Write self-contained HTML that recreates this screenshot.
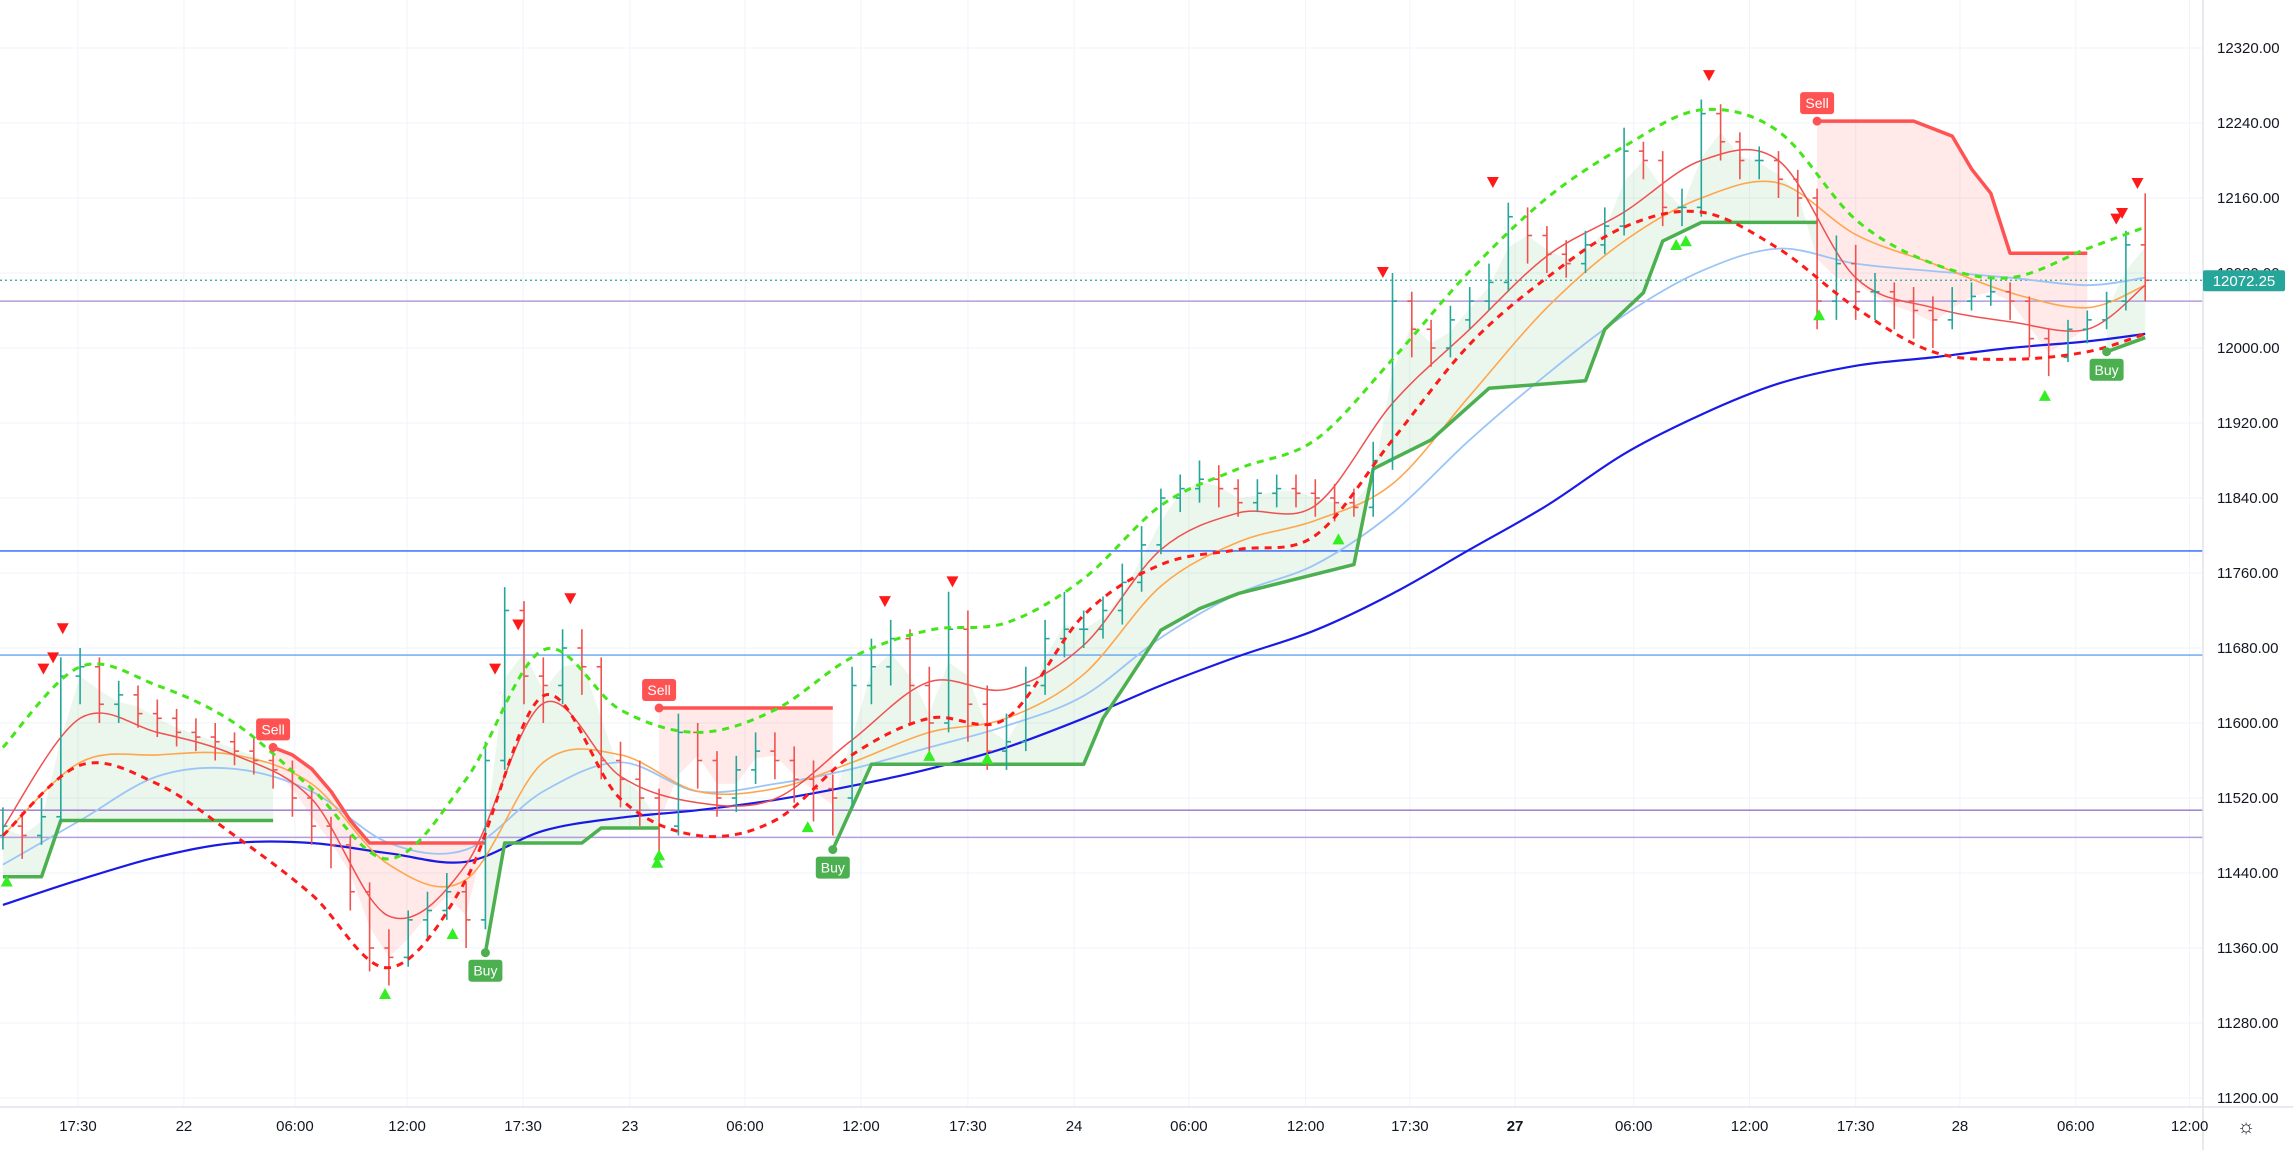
<!DOCTYPE html>
<html><head><meta charset="utf-8"><title>Chart</title>
<style>
html,body{margin:0;padding:0;background:#fff;width:2293px;height:1150px;overflow:hidden}
svg{display:block;font-family:"Liberation Sans",sans-serif}
</style></head>
<body>
<svg id="chart" width="2293" height="1150" viewBox="0 0 2293 1150" xmlns="http://www.w3.org/2000/svg">
<defs><clipPath id="plotclip"><rect x="0" y="0" width="2203" height="1107"/></clipPath></defs>
<rect x="0" y="0" width="2293" height="1150" fill="#ffffff"/>
<g id="grid"></g>
<g id="plot" clip-path="url(#plotclip)"></g>
<g id="axes"></g>
</svg>
<script>
// ---------- data ----------
const open0 = 11480;
const closes = [11490,11480,11500,11650,11660,11620,11630,11610,11605,11590,11585,11580,11570,11560,11550,11520,11490,11470,11420,11360,11350,11390,11400,11420,11390,11560,11720,11650,11640,11680,11660,11560,11540,11520,11490,11590,11560,11520,11550,11570,11560,11540,11530,11520,11640,11660,11690,11640,11600,11700,11620,11570,11580,11640,11690,11700,11700,11720,11750,11790,11840,11850,11860,11850,11835,11845,11850,11845,11840,11835,11830,11880,12050,12020,12000,12030,12050,12070,12140,12120,12100,12090,12110,12130,12210,12200,12150,12150,12250,12220,12200,12200,12180,12160,12050,12090,12060,12060,12050,12040,12030,12050,12055,12060,12050,12010,11990,12020,12030,12050,12110,12072.25];
const highs = [11510,11505,11520,11670,11680,11670,11645,11640,11625,11615,11605,11600,11590,11585,11575,11560,11530,11500,11480,11430,11380,11400,11420,11440,11430,11580,11745,11730,11670,11700,11700,11670,11580,11560,11530,11610,11600,11570,11565,11590,11590,11575,11560,11545,11660,11690,11710,11700,11660,11740,11720,11640,11610,11660,11710,11740,11720,11735,11770,11810,11850,11865,11880,11875,11860,11860,11865,11865,11860,11855,11850,11900,12080,12060,12030,12045,12065,12090,12155,12150,12130,12115,12125,12150,12235,12220,12210,12170,12265,12260,12230,12215,12210,12190,12170,12120,12110,12080,12070,12065,12055,12065,12070,12075,12070,12055,12020,12030,12040,12060,12125,12165];
const lows = [11465,11455,11470,11495,11620,11600,11600,11595,11585,11575,11570,11560,11555,11545,11530,11500,11470,11445,11400,11335,11320,11340,11370,11390,11360,11380,11550,11620,11600,11620,11630,11540,11510,11490,11460,11480,11530,11500,11505,11535,11540,11515,11495,11480,11510,11620,11640,11600,11560,11590,11580,11550,11550,11570,11630,11670,11680,11690,11705,11740,11780,11825,11835,11830,11820,11825,11830,11830,11820,11815,11820,11820,11870,11990,11980,11990,12020,12040,12060,12090,12080,12075,12080,12100,12120,12180,12130,12130,12140,12200,12180,12180,12160,12140,12020,12030,12030,12030,12020,12010,12000,12020,12040,12045,12030,11990,11970,11985,12005,12020,12040,12050];

// indicator sample bar indices
const lineK = [0,4,8,12,16,20,24,28,32,36,40,44,48,52,56,60,64,68,72,76,80,84,88,92,96,100,104,108,111];
const upperBand = [11574,11660,11640,11600,11530,11455,11540,11678,11614,11590,11614,11670,11699,11707,11754,11832,11871,11902,11988,12082,12160,12215,12254,12231,12137,12090,12075,12106,12129];
const lowerBand = [11480,11555,11535,11480,11417,11339,11433,11629,11519,11480,11496,11566,11605,11605,11715,11769,11785,11800,11902,12004,12075,12129,12145,12106,12043,11996,11988,11996,12015];
const emaFast = [11488,11605,11590,11566,11519,11394,11449,11621,11543,11515,11519,11582,11644,11636,11683,11785,11824,11832,11941,12020,12098,12145,12200,12200,12075,12043,12028,12020,12067];
const emaMid = [11480,11558,11566,11566,11535,11449,11433,11558,11566,11527,11530,11558,11590,11605,11652,11746,11793,11816,11855,11949,12043,12114,12160,12176,12121,12090,12059,12043,12067];
const emaSlow = [11449,11496,11543,11551,11527,11472,11465,11527,11558,11527,11535,11551,11574,11597,11629,11691,11738,11769,11824,11902,11972,12035,12082,12106,12090,12082,12075,12067,12075];
const maLong = [11406,11433,11457,11472,11472,11461,11452,11485,11499,11507,11518,11533,11551,11574,11605,11640,11671,11699,11738,11785,11832,11887,11929,11962,11981,11990,12000,12007,12015];

// supertrend (dir 1 = up/green, -1 = down/red)
const stK   = [0,2,3,14, 14,15,16,17,18,19,25, 25,26,30,31,34, 34,43, 43,45,56,57,58,60,62,64,70,71,74,77,82,83,85,86,88,94, 94,99,101,102,103,104,108, 109,111];
const stVal = [11436,11436,11496,11496, 11574,11566,11551,11527,11496,11472,11472, 11355,11472,11472,11488,11488, 11616,11616, 11465,11556,11556,11605,11636,11699,11722,11738,11769,11871,11902,11957,11965,12020,12059,12114,12134,12134, 12242,12242,12226,12191,12165,12101,12101, 11996,12011];
const stDir = [1,1,1,1, -1,-1,-1,-1,-1,-1,-1, 1,1,1,1,1, -1,-1, 1,1,1,1,1,1,1,1,1,1,1,1,1,1,1,1,1,1, -1,-1,-1,-1,-1,-1,-1, 1,1];

// signals
const sellK = [14,34,94];
const buyK = [25,43,109];
const downSigK = [2.1,2.6,3.1,25.5,26.7,29.4,45.7,49.2,71.5,77.2,88.4,109.5,109.8,110.6];
const downSigV = [11657,11669,11700,11657,11704,11732,11729,11750,12080,12176,12290,12137,12143,12175];
const upSigK = [0.2,19.8,23.3,33.9,34,41.7,48,51,69.2,86.7,87.2,94.1,105.8];
const upSigV = [11432,11312,11376,11452,11460,11490,11566,11563,11797,12111,12115,12036,11950];

// horizontal levels
const levelVals = [11783.5,11672.5,12050,11507,11478];
const levelColors = ["#2962ff","#64a5f0","#b39ddb","#9575cd","#b39ddb"];
const lastPrice = 12072.25;

// axis ticks
const yTicks = [11200,11280,11360,11440,11520,11600,11680,11760,11840,11920,12000,12080,12160,12240,12320];
const xTickK = [3.89,9.38,15.13,20.94,26.95,32.49,38.45,44.46,50.0,55.5,61.45,67.5,72.9,78.35,84.5,90.5,96.0,101.4,107.4,113.3];
const xTickLabels = ["17:30","22","06:00","12:00","17:30","23","06:00","12:00","17:30","24","06:00","12:00","17:30","27","06:00","12:00","17:30","28","06:00","12:00"];

// ---------- scales ----------
const X = k => 2.9 + k*19.30;
const Y = v => 48 + (12320 - v)*0.9375;
const NS = "http://www.w3.org/2000/svg";
function mk(tag, attrs, parent){const e=document.createElementNS(NS,tag);for(const a in attrs)e.setAttribute(a,attrs[a]);parent.appendChild(e);return e;}
const grid=document.getElementById('grid'), plot=document.getElementById('plot'), axes=document.getElementById('axes');

function smoothPath(pts){
  let d=`M${pts[0][0].toFixed(1)},${pts[0][1].toFixed(1)}`;
  for(let i=0;i<pts.length-1;i++){
    const p0=pts[i-1]||pts[i],p1=pts[i],p2=pts[i+1],p3=pts[i+2]||p2;
    const c1x=p1[0]+(p2[0]-p0[0])/6,c1y=p1[1]+(p2[1]-p0[1])/6;
    const c2x=p2[0]-(p3[0]-p1[0])/6,c2y=p2[1]-(p3[1]-p1[1])/6;
    d+=` C${c1x.toFixed(1)},${c1y.toFixed(1)} ${c2x.toFixed(1)},${c2y.toFixed(1)} ${p2[0].toFixed(1)},${p2[1].toFixed(1)}`;
  }
  return d;
}

// ---------- grid ----------
yTicks.forEach(v=>{
  const l=mk('line',{x1:0,x2:2203,y1:Y(v),y2:Y(v),stroke:'#f0f3fa','stroke-width':1},grid);
  
  
});
xTickK.forEach(k=>{
  const l=mk('line',{x1:X(k),x2:X(k),y1:0,y2:1107,stroke:'#f0f3fa','stroke-width':1},grid);
  
  
});

// ---------- supertrend segments ----------
const segs=[];
for(let i=0;i<stK.length;i++){
  if(i===0||stDir[i]!==stDir[i-1]) segs.push({dir:stDir[i],k:[],v:[]});
  segs[segs.length-1].k.push(stK[i]); segs[segs.length-1].v.push(stVal[i]);
}
function stAt(seg,k){
  for(let j=0;j<seg.k.length-1;j++){ if(k>=seg.k[j]&&k<=seg.k[j+1]){const t=(k-seg.k[j])/((seg.k[j+1]-seg.k[j])||1);return seg.v[j]+t*(seg.v[j+1]-seg.v[j]);} }
  return seg.v[seg.v.length-1];
}
// fills
segs.forEach(seg=>{
  const k0=seg.k[0],k1=seg.k[seg.k.length-1];
  const top=[],bot=[];
  for(let k=k0;k<=k1;k++){ bot.push([X(k),Y(stAt(seg,k))]); top.push([X(k),Y((highs[k]+lows[k])/2)]); }
  const pts=top.concat(bot.reverse()).map(p=>p[0].toFixed(1)+','+p[1].toFixed(1)).join(' ');
  const p=mk('polygon',{points:pts,fill:seg.dir>0?'rgba(76,175,80,0.11)':'rgba(255,82,82,0.13)',stroke:'none'},plot);
  
  
});

// horizontal levels
levelVals.forEach((v,i)=>{
  const l=mk('line',{x1:0,x2:2203,y1:Y(v),y2:Y(v),stroke:levelColors[i],'stroke-width':1.4},plot);
  
  
});
// last price dotted line
{const l=mk('line',{x1:0,x2:2203,y1:Y(lastPrice),y2:Y(lastPrice),stroke:'#26a69a','stroke-width':1.2,'stroke-dasharray':'2,3'},plot);

}

// moving averages
function drawLine(vals,color,w,dash,name){
  const pts=lineK.map((k,i)=>[X(k),Y(vals[i])]);
  const p=mk('path',{d:smoothPath(pts),fill:'none',stroke:color,'stroke-width':w,'stroke-linecap':'butt'},plot);
  if(dash)p.setAttribute('stroke-dasharray',dash);
  
  
}
drawLine(maLong,'#1a1ae6',2.2,null,'ma-long-line');
drawLine(emaSlow,'#9cc5f7',1.8,null,'ema-slow-line');
drawLine(emaMid,'#ffa64d',1.6,null,'ema-mid-line');
drawLine(emaFast,'#f05050',1.5,null,'ema-fast-line');

// supertrend lines
segs.forEach(seg=>{
  const d=seg.k.map((k,i)=>(i?'L':'M')+X(k).toFixed(1)+','+Y(seg.v[i]).toFixed(1)).join(' ');
  const p=mk('path',{d:d,fill:'none',stroke:seg.dir>0?'#4caf50':'#ff5252','stroke-width':3.5,'stroke-linejoin':'round'},plot);
  
  
});

// OHLC bars
for(let k=0;k<closes.length;k++){
  const o=k?closes[k-1]:open0,c=closes[k];
  const col=c>=o?'#26a69a':'#ef5350';
  const x=X(k);
  const g=mk('g',{stroke:col,'stroke-width':1.6},plot);
  
  
  mk('line',{x1:x,x2:x,y1:Y(highs[k]),y2:Y(lows[k])},g);
  mk('line',{x1:x-4.5,x2:x,y1:Y(o),y2:Y(o)},g);
  mk('line',{x1:x,x2:x+4.5,y1:Y(c),y2:Y(c)},g);
}

// bands (dashed) on top
drawLine(upperBand,'#44e61a',3,'7,6','upper-band-dashed');
drawLine(lowerBand,'#ff1a1a',3,'7,6','lower-band-dashed');

// signal triangles
downSigK.forEach((k,i)=>{
  const x=X(k),y=Y(downSigV[i]);
  const t=mk('polygon',{points:`${x-6},${y-6} ${x+6},${y-6} ${x},${y+5}`,fill:'#ff1a1a'},plot);
  
  
});
upSigK.forEach((k,i)=>{
  const x=X(k),y=Y(upSigV[i]);
  const t=mk('polygon',{points:`${x-6},${y+6} ${x+6},${y+6} ${x},${y-5}`,fill:'#33ee22'},plot);
  
  
});

// Buy/Sell labels
function tag(k,isBuy){
  const seg=segs.find(s=>s.dir===(isBuy?1:-1)&&Math.abs(s.k[0]-k)<=1.01);
  const v=seg?seg.v[0]:closes[Math.round(k)];
  const x=X(k),y=Y(v);
  const col=isBuy?'#4caf50':'#ff5252';
  const g=mk('g',{},plot);
  
  
  mk('circle',{cx:x,cy:y,r:4.5,fill:col},g);
  const ry=isBuy?y+7:y-29;
  mk('rect',{x:x-17,y:ry,width:34,height:22,rx:3,fill:col},g);
  const t=mk('text',{x:x,y:ry+16,'text-anchor':'middle','font-size':14,fill:'#fff'},g);
  t.textContent=isBuy?'Buy':'Sell';
}
sellK.forEach(k=>tag(k,false));
buyK.forEach(k=>tag(k,true));

// ---------- axes ----------
{const l=mk('line',{x1:2203,x2:2203,y1:0,y2:1150,stroke:'#e0e3eb','stroke-width':1.5},axes);


const b=mk('line',{x1:0,x2:2293,y1:1107,y2:1107,stroke:'#e0e3eb','stroke-width':1.5},axes);

}
yTicks.forEach(v=>{
  const t=mk('text',{x:2217,y:Y(v)+5,'font-size':15,fill:'#131722'},axes);
  
  
  t.textContent=v.toFixed(2);
});
xTickK.forEach((k,i)=>{
  const t=mk('text',{x:X(k),y:1131,'text-anchor':'middle','font-size':15,fill:'#131722'},axes);
  if(xTickLabels[i]==='27')t.setAttribute('font-weight','bold');
  
  
  t.textContent=xTickLabels[i];
});
// last price badge
{const g=mk('g',{},axes);


const yy=Y(lastPrice);
mk('rect',{x:2203,y:yy-10,width:82,height:21,rx:2,fill:'#26a69a'},g);
const t=mk('text',{x:2244,y:yy+5.5,'text-anchor':'middle','font-size':15,fill:'#fff'},g);
t.textContent=lastPrice.toFixed(2);}
// settings icon
{const t=mk('text',{x:2246,y:1133,'text-anchor':'middle','font-size':20,fill:'#131722'},axes);


t.textContent='☼';}
</script>
</body></html>
